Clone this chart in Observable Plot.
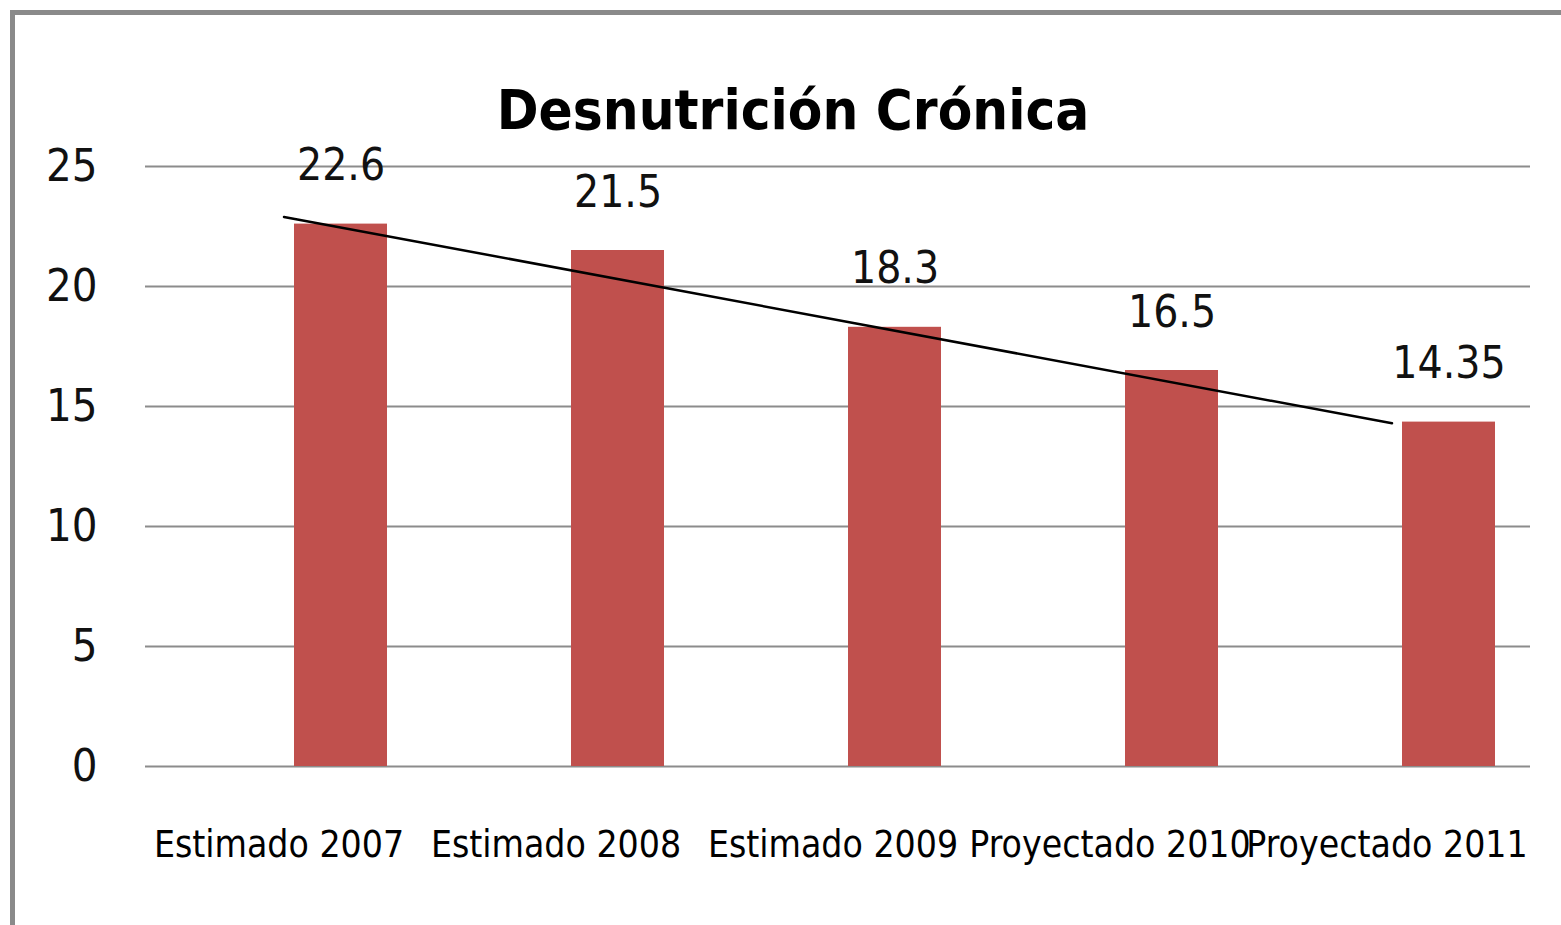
<!DOCTYPE html>
<html>
<head>
<meta charset="utf-8">
<script src="https://cdn.jsdelivr.net/npm/d3@7"></script>
<script src="https://cdn.jsdelivr.net/npm/@observablehq/plot@0.6"></script>
<style>
  html, body { margin: 0; padding: 0; background: #fff; }
  #wrap { position: relative; width: 1561px; height: 925px; overflow: hidden; }
  #border { position: absolute; left: 10px; top: 10px; width: 1600px; height: 1000px;
            border-left: 5px solid #8a8a8a; border-top: 5px solid #8a8a8a; pointer-events: none; }
</style>
</head>
<body>
<div id="wrap"><div id="border"></div></div>
<script>
const categories = ["Estimado 2007", "Estimado 2008", "Estimado 2009", "Proyectado 2010", "Proyectado 2011"];
const values = [22.6, 21.5, 18.3, 16.5, 14.35];
const valueLabels = ["22.6", "21.5", "18.3", "16.5", "14.35"];
const trendCategories = ["Estimado 2007", "Proyectado 2011"];
const trendValues = [22.9, 14.3];
const yTicks = [0, 5, 10, 15, 20, 25];
const title = "Desnutrición Crónica";

const data = categories.map((c, i) => ({cat: c, value: values[i], label: valueLabels[i]}));
const trend = trendCategories.map((c, i) => ({cat: c, value: trendValues[i]}));

const font = "'Liberation Sans Narrow', 'DejaVu Sans Condensed', sans-serif";

const chart = Plot.plot({
  width: 1561,
  height: 925,
  marginLeft: 145,
  marginRight: 31,
  marginTop: 166,
  marginBottom: 159,
  style: {fontFamily: font, background: "transparent"},
  x: {domain: categories, padding: 0, label: null},
  y: {domain: [0, 25], label: null},
  marks: [
    Plot.gridY(yTicks, {stroke: "#8c8c8c", strokeOpacity: 1, strokeWidth: 2}),
    Plot.barY(data, {x: "cat", y: "value", fill: "#C0504D", insetLeft: 92, insetRight: 92, dx: 57}),
    Plot.line(trend, {x: "cat", y: "value", stroke: "#000", strokeWidth: 2.5}),
    Plot.text(data, {x: "cat", y: "value", text: "label", dx: 57, dy: -58, fontSize: 44, fill: "#111"}),
    Plot.axisY(yTicks, {tickSize: 0, tickPadding: 48, fontSize: 45, fill: "#111", label: null}),
    Plot.axisX({tickSize: 0, tickPadding: 64, fontSize: 37, fill: "#000", label: null, dx: -5}),
    Plot.text([title], {frameAnchor: "top", lineAnchor: "middle", dy: -55, dx: -45, fontSize: 56, fontWeight: "bold", fill: "#000"})
  ]
});
document.getElementById("wrap").prepend(chart);
</script>
</body>
</html>
